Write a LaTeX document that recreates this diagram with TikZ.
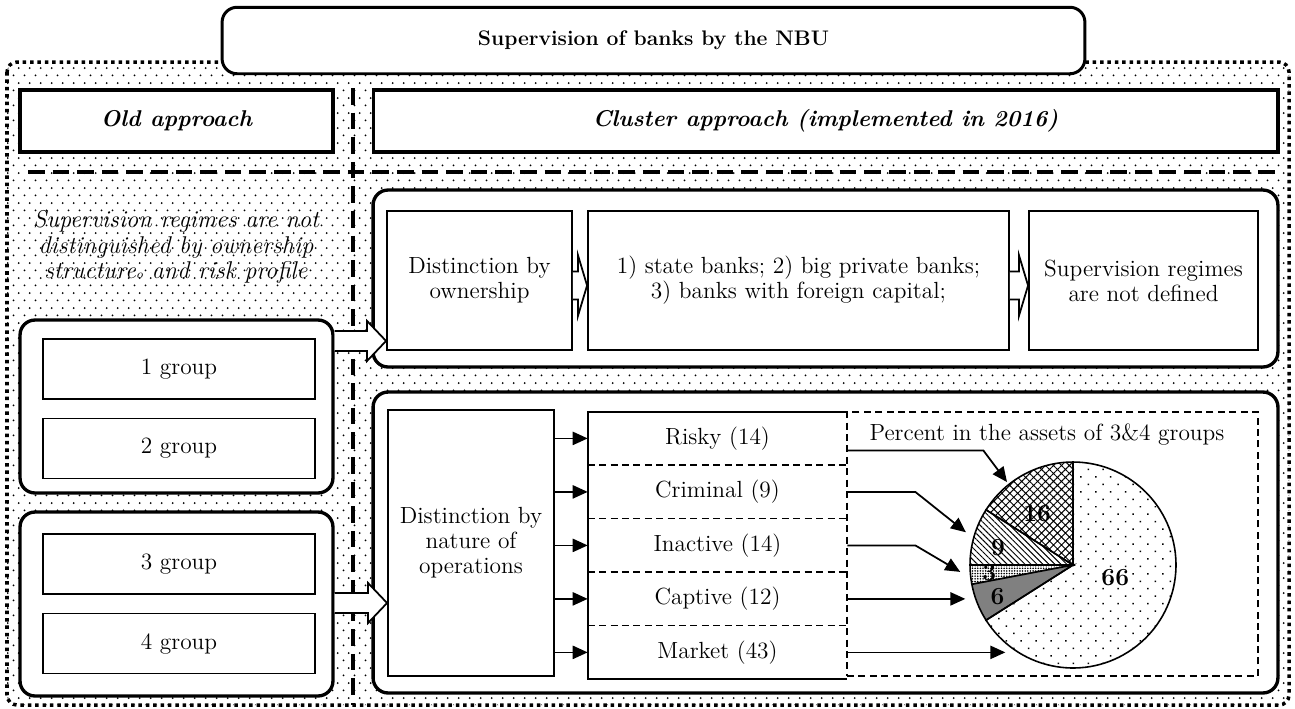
\documentclass[tikz,border=0pt]{standalone}
\usepackage{tikz}
\usetikzlibrary{arrows.meta,positioning,calc,patterns,patterns.meta}

% staggered dots for the background
\tikzdeclarepattern{
  name=bankdots,
  tile size={(6.3pt,8.4pt)},
  bounding box={(0pt,0pt) and (6.3pt,8.4pt)},
  code={
    \fill (1.575pt,2.1pt) circle[radius=0.6pt];
    \fill (4.725pt,6.3pt) circle[radius=0.6pt];
  }
}

\begin{document}
\begin{tikzpicture}[
  x=0.02cm, y=-0.02cm,
  >={Triangle[length=8.5pt,width=7.5pt]},
  bg/.style={draw, line width=2pt, dash pattern=on 2pt off 2.2pt, rounded corners=0.2cm, pattern=bankdots},
  sepline/.style={line width=1.8pt, dash pattern=on 9.5pt off 4.5pt},
  headbox/.style={draw, fill=white, line width=1.7pt, rounded corners=0.3cm, minimum width=17.26cm, minimum height=1.33cm, font=\fontsize{12}{14}\selectfont\bfseries},
  appbox/.style={draw, fill=white, line width=1.8pt, minimum height=1.24cm, font=\fontsize{13}{14}\selectfont\bfseries\itshape},
  holder/.style={draw, fill=white, line width=1.9pt, rounded corners=0.3cm},
  grpbox/.style={draw, line width=1.1pt, minimum width=5.44cm, minimum height=1.2cm},
  stepbox/.style={draw, line width=1.1pt, minimum height=2.78cm, align=center},
  itemrow/.style={minimum width=5.18cm, minimum height=1.056cm, inner sep=0pt},
  fine dash/.style={line width=0.9pt, dash pattern=on 4pt off 2.5pt},
  hollow/.style={draw, fill=white, line width=1pt},
  link/.style={->, line width=1pt},
  slice/.style={draw, line width=0.9pt},
  pielabel/.style={font=\fontsize{14}{15}\selectfont\bfseries, inner sep=0pt},
]
\fontsize{13.3}{14.3}\selectfont
\useasboundingbox (0,0) rectangle (1295,708);
\draw[bg] (7,62) rectangle (1289,705);
\draw[sepline] (353,88) -- (353,705);
\draw[sepline] (28,172) -- (1278,172);

\node[headbox] (title) at (653.5,40.5) {Supervision of banks by the NBU};
\node[appbox, minimum width=6.26cm] (old) at (176.5,121) {Old approach};
\node[appbox, minimum width=18.1cm] (cluster) at (825.5,121) {Cluster approach (implemented in 2016)};

\node[align=center, font=\fontsize{13.8}{14.3}\selectfont\itshape] (note) at (176,247)
  {Supervision regimes are not\\distinguished by ownership\\structure{\scriptsize o} and risk profile};

% old approach: groups
\node[holder, minimum width=6.26cm, minimum height=3.46cm] (grpA) at (176.5,406.5) {};
\node[grpbox] (g1) at (179,369) {1 group};
\node[grpbox] (g2) at (179,448.5) {2 group};
\node[holder, minimum width=6.26cm, minimum height=3.68cm] (grpB) at (176.5,604) {};
\node[grpbox] (g3) at (179,564) {3 group};
\node[grpbox] (g4) at (179,643.5) {4 group};

% cluster approach: ownership
\node[holder, minimum width=18.1cm, minimum height=3.54cm] (ownA) at (825.5,278.5) {};
\node[stepbox, minimum width=3.7cm] (own) at (479.5,280.5) {Distinction by\\ownership};
\node[stepbox, minimum width=8.42cm] (kinds) at (798.5,280.5)
  {1) state banks; 2) big private banks;\\3) banks with foreign capital;};
\node[stepbox, minimum width=4.58cm] (undef) at (1143.5,280.5) {Supervision regimes\\are not defined};

% cluster approach: nature of operations
\node[holder, minimum width=18.1cm, minimum height=6.02cm] (natA) at (825.5,542.5) {};
\node[stepbox, minimum width=3.32cm, minimum height=5.32cm] (nat) at (471,543)
  {Distinction by\\nature of\\operations};

\node[itemrow] (r1) at (717.5,438.4) {Risky (14)};
\node[itemrow, below=0pt of r1] (r2) {Criminal (9)};
\node[itemrow, below=0pt of r2] (r3) {Inactive (14)};
\node[itemrow, below=0pt of r3] (r4) {Captive (12)};
\node[itemrow, below=0pt of r4] (r5) {Market (43)};
\foreach \i in {1,...,4}
  \draw[fine dash] (r\i.south west) -- (r\i.south east);
\draw[line width=1.1pt] (r1.north east) -- (r1.north west) -- (r5.south west) -- (r5.south east);
\node[draw, fine dash, minimum width=8.22cm, minimum height=5.28cm] (chart) at (1052.5,544) {};
\node (ctitle) at (1047,435) {Percent in the assets of 3\&4 groups};

\foreach \i in {1,...,5}
  \draw[link] (nat.east |- r\i.west) -- (r\i.west);

% pie
\coordinate (pie) at (1073,565);
\draw[slice, pattern={Hatch[angle=45,distance=3.2pt,line width=0.55pt]}]
  (pie) -- ++(90:2.06cm) arc[start angle=90, end angle=147.6, radius=2.06cm] -- cycle;
\draw[slice, pattern={Lines[angle=-45,distance=2.4pt,line width=0.55pt]}]
  (pie) -- ++(147.6:2.06cm) arc[start angle=147.6, end angle=180, radius=2.06cm] -- cycle;
\draw[slice, pattern={Dots[distance=1.5pt,radius=0.5pt]}]
  (pie) -- ++(180:2.06cm) arc[start angle=180, end angle=190.8, radius=2.06cm] -- cycle;
\draw[slice, fill=black!50]
  (pie) -- ++(190.8:2.06cm) arc[start angle=190.8, end angle=212.4, radius=2.06cm] -- cycle;
\draw[slice, pattern={Dots[distance=6pt,angle=45,radius=0.6pt]}]
  (pie) -- ++(212.4:2.06cm) arc[start angle=212.4, end angle=450, radius=2.06cm] -- cycle;
\node[pielabel] at ($(pie)+(124.7:1.26cm)$) {16};
\node[pielabel] at ($(pie)+(167:1.54cm)$) {9};
\node[pielabel] at ($(pie)+(185.4:1.68cm)$) {3};
\node[pielabel] at ($(pie)+(202.8:1.64cm)$) {6};
\node[pielabel] at ($(pie)+(-16:0.88cm)$) {66};

\draw[link] ([yshift=-0.24cm]r1.east) -- ++(136,0) -- ($(pie)+(128.5:2.12cm)$);
\draw[link] (r2.east) -- ++(68,0) -- ($(pie)+(163:2.24cm)$);
\draw[link] (r3.east) -- ++(68,0) -- ($(pie)+(183.5:2.26cm)$);
\draw[link] (r4.east) -- ++(118,0);
\draw[link] (r5.east) -- ++(158,0);

% hollow arrows
\coordinate (tipA) at ($(own.south west)+(0,-10)$);
\draw[hollow] ($(grpA.east |- tipA)+(0,-10)$) -- ($(tipA)+(-19,-10)$) -- ($(tipA)+(-19,-20)$) -- (tipA)
  -- ($(tipA)+(-19,20)$) -- ($(tipA)+(-19,10)$) -- ($(grpA.east |- tipA)+(0,10)$);
\coordinate (tipB) at ($(nat.west)+(0,60)$);
\draw[hollow] ($(grpB.east |- tipB)+(0,-10)$) -- ($(tipB)+(-19,-10)$) -- ($(tipB)+(-19,-20)$) -- (tipB)
  -- ($(tipB)+(-19,20)$) -- ($(tipB)+(-19,10)$) -- ($(grpB.east |- tipB)+(0,10)$);
\coordinate (tipC) at ($(kinds.west)+(0,5)$);
\draw[hollow] ($(own.east |- tipC)+(0,-14)$) -- ($(tipC)+(-9,-14)$) -- ($(tipC)+(-9,-30)$) -- (tipC)
  -- ($(tipC)+(-9,30)$) -- ($(tipC)+(-9,14)$) -- ($(own.east |- tipC)+(0,14)$);
\coordinate (tipD) at ($(undef.west)+(0,5)$);
\draw[hollow] ($(kinds.east |- tipD)+(0,-14)$) -- ($(tipD)+(-9,-14)$) -- ($(tipD)+(-9,-30)$) -- (tipD)
  -- ($(tipD)+(-9,30)$) -- ($(tipD)+(-9,14)$) -- ($(kinds.east |- tipD)+(0,14)$);
\end{tikzpicture}
\end{document}
